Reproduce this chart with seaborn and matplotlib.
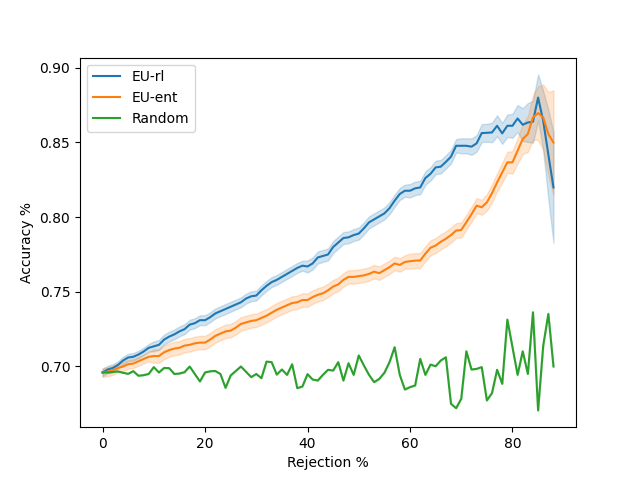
import numpy as np
import pandas as pd
import matplotlib
matplotlib.use("Agg")
import matplotlib.pyplot as plt
import seaborn as sns

rejection = list(range(0, 89))

eu_rl = [0.696, 0.698, 0.699, 0.701, 0.704, 0.706, 0.7065, 0.708, 0.710, 0.7125,
         0.7135, 0.7145, 0.718, 0.720, 0.7215, 0.7235, 0.725, 0.728, 0.729, 0.731,
         0.731, 0.733, 0.7355, 0.737, 0.7385, 0.740, 0.7415, 0.743, 0.7455, 0.747,
         0.7475, 0.751, 0.754, 0.7565, 0.758, 0.760, 0.762, 0.764, 0.766, 0.7675,
         0.767, 0.769, 0.773, 0.774, 0.775, 0.780, 0.783, 0.786, 0.7865, 0.788,
         0.789, 0.7925, 0.7965, 0.7985, 0.8005, 0.8025, 0.806, 0.811, 0.8155, 0.8177,
         0.8177, 0.8193, 0.8199, 0.8262, 0.829, 0.8333, 0.8338, 0.837, 0.8405, 0.8478,
         0.8478, 0.8478, 0.8472, 0.8494, 0.8563, 0.8565, 0.8567, 0.8612, 0.8561, 0.8612,
         0.8612, 0.8661, 0.8619, 0.8634, 0.8639, 0.8801, 0.8645, 0.842, 0.8199]

eu_rl_hw = [0.0025] * 10 + [0.0033] * 30 + [0.004] * 20 + [0.0045] * 10 + \
           [0.005, 0.005, 0.0055, 0.0055, 0.006, 0.006, 0.0065, 0.007, 0.007, 0.0075,
            0.008, 0.009, 0.011, 0.013, 0.014, 0.0155, 0.02, 0.03, 0.037]

eu_ent = [0.696, 0.6965, 0.6975, 0.699, 0.700, 0.7015, 0.702, 0.7035, 0.705, 0.7065,
          0.707, 0.707, 0.7095, 0.711, 0.712, 0.7125, 0.714, 0.7145, 0.7155, 0.716,
          0.716, 0.718, 0.7205, 0.722, 0.7235, 0.724, 0.726, 0.7285, 0.7295, 0.7305,
          0.731, 0.7325, 0.734, 0.736, 0.738, 0.7395, 0.741, 0.7425, 0.743, 0.7445,
          0.7445, 0.7465, 0.748, 0.749, 0.751, 0.7535, 0.755, 0.758, 0.760, 0.760,
          0.7605, 0.761, 0.762, 0.7635, 0.7625, 0.7645, 0.7665, 0.769, 0.768, 0.770,
          0.7705, 0.7709, 0.771, 0.7755, 0.7795, 0.781, 0.7835, 0.7855, 0.788, 0.791,
          0.7914, 0.7966, 0.802, 0.8077, 0.8066, 0.8099, 0.816, 0.8233, 0.830, 0.8367,
          0.8367, 0.8445, 0.8523, 0.8557, 0.8668, 0.8697, 0.8668, 0.8557, 0.850]

eu_ent_hw = [0.003] * 10 + [0.0045] * 50 + [0.005] * 15 + \
            [0.0055, 0.006, 0.006, 0.0065, 0.007, 0.0075, 0.0085, 0.01, 0.012,
             0.015, 0.018, 0.022, 0.028, 0.035]

random_acc = [0.696, 0.696, 0.6963, 0.6967, 0.6958, 0.6951, 0.6969, 0.6938, 0.6942, 0.695,
              0.6996, 0.696, 0.699, 0.6989, 0.695, 0.6953, 0.6962, 0.700, 0.695, 0.690,
              0.696, 0.6968, 0.697, 0.695, 0.6857, 0.694, 0.697, 0.700, 0.6965, 0.6929,
              0.695, 0.6922, 0.7033, 0.7029, 0.6946, 0.698, 0.6944, 0.7015, 0.6855, 0.6866,
              0.6949, 0.6913, 0.6906, 0.6944, 0.6978, 0.6973, 0.7029, 0.6906, 0.7022, 0.6944,
              0.7074, 0.7007, 0.6944, 0.6895, 0.6917, 0.6958, 0.7029, 0.7129, 0.6944, 0.6846,
              0.6862, 0.6873, 0.7051, 0.6944, 0.7013, 0.7002, 0.704, 0.7062, 0.675, 0.6721,
              0.6784, 0.7102, 0.698, 0.6984, 0.6996, 0.6773, 0.6822, 0.6978, 0.6884, 0.7314,
              0.7129, 0.6944, 0.7102, 0.695, 0.7363, 0.6706, 0.714, 0.7352, 0.700]

random_hw = [0.0] * 89

methods = ["EU-rl", "EU-ent", "Random"]

rows = []
for name, mean, hw in [("EU-rl", eu_rl, eu_rl_hw), ("EU-ent", eu_ent, eu_ent_hw),
                       ("Random", random_acc, random_hw)]:
    for x, m, h in zip(rejection, mean, hw):
        for v in (m - h, m, m + h):
            rows.append({"Rejection %": x, "Accuracy %": v, "method": name})
df = pd.DataFrame(rows)

fig, ax = plt.subplots(figsize=(6.4, 4.8), dpi=100)
sns.lineplot(data=df, x="Rejection %", y="Accuracy %", hue="method",
             hue_order=methods, estimator="median", errorbar=("pi", 100),
             palette=["#1f77b4", "#ff7f0e", "#2ca02c"], ax=ax)
sns.move_legend(ax, "upper left", title=None)
ax.set_xlabel("Rejection %")
ax.set_ylabel("Accuracy %")
fig.savefig("out.png", dpi=100)
